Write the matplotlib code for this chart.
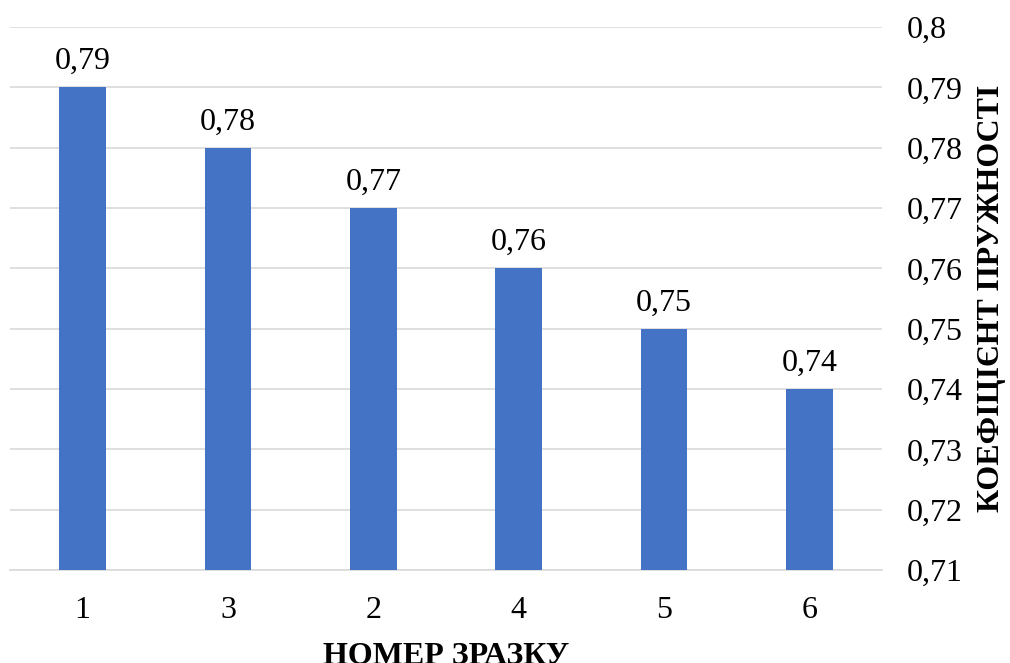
import numpy as np
import matplotlib.pyplot as plt
from matplotlib.ticker import FuncFormatter

plt.rcParams['font.family'] = ['Liberation Serif', 'DejaVu Serif']

# Sample numbers (in display order) and their elasticity coefficients
samples = ['1', '3', '2', '4', '5', '6']
coef = [0.79, 0.78, 0.77, 0.76, 0.75, 0.74]
y_ticks = [0.71, 0.72, 0.73, 0.74, 0.75, 0.76, 0.77, 0.78, 0.79, 0.80]

fig = plt.figure(figsize=(10.1, 6.63), dpi=100)
ax = fig.add_axes([10 / 1010, 1 - 570 / 663, 872 / 1010, 543 / 663])

x = np.arange(len(samples))
bars = ax.bar(x, coef, width=0.32, color='#4472C4', zorder=3)

def comma(v, pos=None):
    s = f'{v:.2f}'.rstrip('0')
    return s.replace('.', ',')

for xi, v in zip(x, coef):
    ax.annotate(comma(v), (xi, v), xytext=(0, 8), textcoords='offset points',
                ha='center', va='bottom', fontsize=23)

ax.set_xlim(-0.5, len(samples) - 0.5)
ax.set_ylim(0.71, 0.80)
ax.set_xticks(x)
ax.set_xticklabels(samples)
ax.set_yticks(y_ticks)
ax.yaxis.set_major_formatter(FuncFormatter(comma))
ax.yaxis.tick_right()
ax.yaxis.set_label_position('right')
ax.tick_params(axis='both', length=0, labelsize=23)
ax.tick_params(axis='y', pad=18)
ax.tick_params(axis='x', pad=19)
ax.grid(axis='y', color='#d9d9d9', linewidth=1.2, zorder=0)
for side in ['top', 'left', 'right']:
    ax.spines[side].set_visible(False)
ax.spines['bottom'].set_color('#d9d9d9')
ax.spines['bottom'].set_linewidth(1.2)

ax.set_xlabel('НОМЕР ЗРАЗКУ', fontsize=23, fontweight='bold', labelpad=12)
ax.set_ylabel('КОЕФІЦІЄНТ ПРУЖНОСТІ', fontsize=23, fontweight='bold',
              rotation=90, labelpad=10)

fig.savefig('out.png', dpi=100)
